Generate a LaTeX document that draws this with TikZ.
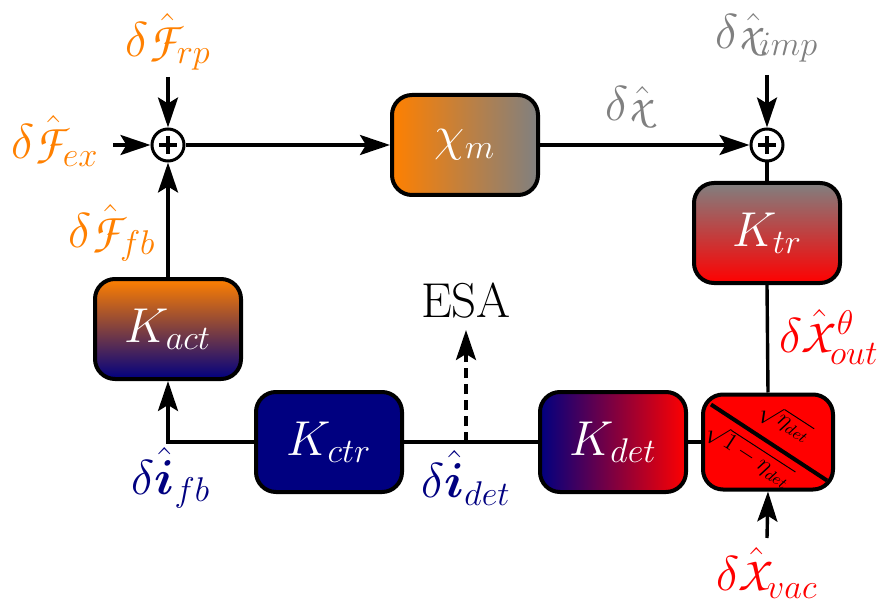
\documentclass[tikz,border=0pt]{standalone}
\usepackage{fix-cm}
\usepackage{amsmath,bm}
\DeclareMathAlphabet{\mathpzc}{OT1}{pzc}{m}{it}
\usetikzlibrary{arrows.meta}
\definecolor{myorange}{RGB}{255,128,0}
\definecolor{mygray}{RGB}{128,128,128}
\definecolor{myred}{RGB}{255,0,0}
\definecolor{mynavy}{RGB}{0,0,128}
\newcommand{\bigfnt}{\fontsize{24.5}{28}\selectfont}
\newcommand{\smallfnt}{\fontsize{12}{14}\selectfont}
\tikzset{
  blk/.style={draw, line width=2pt, rounded corners=10pt, minimum width=73pt,
    minimum height=50pt, text=white, font=\bigfnt, inner sep=0pt},
  sumnode/.style={circle, draw, line width=1.5pt, fill=white, minimum size=16pt, inner sep=0pt,
    path picture={
      \draw[line width=1.6pt] ([xshift=-4.5pt]path picture bounding box.center) -- ([xshift=4.5pt]path picture bounding box.center);
      \draw[line width=1.6pt] ([yshift=-4.5pt]path picture bounding box.center) -- ([yshift=4.5pt]path picture bounding box.center);}},
  lbl/.style={font=\bigfnt, inner sep=0pt},
  conn/.style={line width=1.7pt},
  arr/.style={conn, -{Stealth[length=15pt,width=10pt,inset=3pt]}},
}
\begin{document}
\begin{tikzpicture}[x=0.5pt,y=-0.5pt]
\useasboundingbox (0,0) rectangle (884,599);
% nodes
\node[sumnode] (sumL) at (168,145) {};
\node[sumnode] (sumR) at (767,145) {};
\node[blk, left color=myorange, right color=mygray] (chi) at (465,145) {$\chi_m$};
\node[blk, top color=mygray, bottom color=myred] (ktr) at (767,233) {$K_{tr}$};
\node[blk, top color=myorange, bottom color=mynavy] (kact) at (168,329) {$K_{act}$};
\node[blk, fill=mynavy] (kctr) at (329,442) {$K_{ctr}$};
\node[blk, left color=mynavy, right color=myred] (kdet) at (613,442) {$K_{det}$};
\node[blk, fill=myred, minimum width=65pt, minimum height=47.5pt] (bs) at (768,442) {};
% beam splitter diagonal
\draw[line width=2pt] ([shift={(10,12)}]bs.north west) coordinate (d1) -- ([shift={(-8,-11)}]bs.south east) coordinate (d2);
\node[font=\smallfnt, rotate=-33, inner sep=0pt] (eta1) at (785,423) {$\sqrt{\eta_{det}}$};
\node[font=\smallfnt, rotate=-33, inner sep=0pt] (eta2) at (749,455) {$\sqrt{1-\eta_{det}}$};
% labels
\node[lbl, text=myorange] (frp) at (168,42) {$\delta\hat{\mathpzc{F}}_{rp}$};
\node[lbl, text=myorange] (fex) at (55,141) {$\delta\hat{\mathpzc{F}}_{ex}$};
\node[lbl, text=myorange] (ffb) at (112,233) {$\delta\hat{\mathpzc{F}}_{fb}$};
\node[lbl, text=mygray] (ximp) at (767,38) {$\delta\hat{\mathpzc{x}}_{imp}$};
\node[lbl, text=mygray] (xx) at (631,108) {$\delta\hat{\mathpzc{x}}$};
\node[lbl, text=myred] (xout) at (829,337) {$\delta\hat{\mathpzc{X}}^{\theta}_{out}$};
\node[lbl, text=myred] (xvac) at (767,573) {$\delta\hat{\mathpzc{X}}_{vac}$};
\node[lbl, text=mynavy] (ifb) at (171,478) {$\delta\hat{\bm{i}}_{fb}$};
\node[lbl, text=mynavy] (idet) at (466,478) {$\delta\hat{\bm{i}}_{det}$};
\node[lbl] (esa) at (466,301) {ESA};
% coordinates
\coordinate (rpS) at (168,77);
\coordinate (exS) at (113,145);
\coordinate (impS) at (767,75);
\coordinate (vacS) at (767,538);
\coordinate (corner) at (168,442);
\coordinate (esaS) at (466,442);
% connectors
\draw[arr] (rpS) -- (sumL.north);
\draw[arr] (exS) -- (sumL.west);
\draw[arr] (kact.north) -- (sumL.south);
\draw[arr] (sumL.east) -- (chi.west);
\draw[arr] (chi.east) -- (sumR.west);
\draw[arr] (impS) -- (sumR.north);
\draw[conn] (sumR.south) -- (ktr.north);
\draw[conn] (ktr.south) -- (bs.north);
\draw[arr] (vacS) -- (bs.south);
\draw[conn] (bs.west) -- (kdet.east);
\draw[conn] (kdet.west) -- (kctr.east);
\draw[arr] (kctr.west) -- (corner) -- (kact.south);
\draw[arr, dashed, dash pattern=on 5pt off 3pt] (esaS) -- (466,330);
\end{tikzpicture}
\end{document}
